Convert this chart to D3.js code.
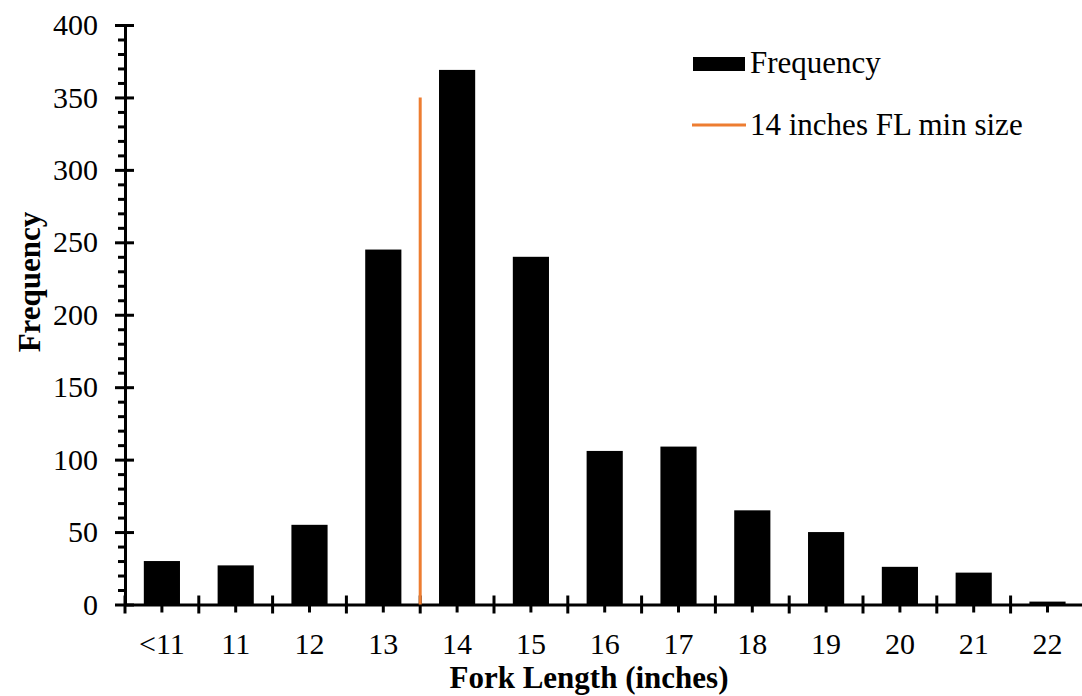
<!DOCTYPE html>
<html>
<head>
<meta charset="utf-8">
<script src="https://cdn.jsdelivr.net/npm/d3@7"></script>
<style>
  body { margin: 0; background: #fff; }
  text { font-family: "Times New Roman", "Liberation Serif", serif; }
</style>
</head>
<body>
<div id="chart"></div>
<script>
// fork length classes and counts
const categories = ["<11", "11", "12", "13", "14", "15", "16", "17", "18", "19", "20", "21", "22"];
const frequency = [30, 27, 55, 245, 369, 240, 106, 109, 65, 50, 26, 22, 2];
const yTicks = [0, 50, 100, 150, 200, 250, 300, 350, 400];
// min size line sits on the 13/14 boundary, up to 350
const minSizeCat = "14";
const minSizeTop = 350;

const width = 1082, height = 696;
const margin = {top: 25, right: -2, bottom: 92, left: 125};

const svg = d3.select("#chart")
    .append("svg")
    .attr("width", width)
    .attr("height", height);

const xScale = d3.scaleBand()
    .domain(categories)
    .range([margin.left, 1084.4])
    .padding(0);

const yScale = d3.scaleLinear()
    .domain([0, 400])
    .range([604.5, margin.top]);

const bw = xScale.bandwidth();
const barFrac = 0.49;

// bars
svg.append("g")
    .selectAll("rect")
    .data(categories)
    .enter()
    .append("rect")
    .attr("x", d => xScale(d) + bw * (1 - barFrac) / 2)
    .attr("y", (d, i) => yScale(frequency[i]))
    .attr("width", bw * barFrac)
    .attr("height", (d, i) => yScale(0) - yScale(frequency[i]))
    .style("fill", "#000");

// y axis, minor ticks every 10
const minorY = d3.range(0, 401, 10).filter(v => v % 50 !== 0);
svg.append("g")
    .attr("transform", `translate(${margin.left},0)`)
    .call(d3.axisLeft(yScale).tickValues(minorY).tickSize(7).tickSizeOuter(0).tickFormat(""))
    .call(g => g.select(".domain").remove())
    .call(g => g.selectAll("line").attr("stroke-width", 3));

const yAxis = svg.append("g")
    .attr("transform", `translate(${margin.left},0)`)
    .call(d3.axisLeft(yScale).tickValues(yTicks).tickSize(10).tickSizeOuter(0).tickPadding(17));
yAxis.select(".domain").attr("stroke-width", 3);
yAxis.selectAll(".tick line").attr("x2", 9).attr("x1", -10).attr("stroke-width", 3);
yAxis.selectAll(".tick text")
    .style("font-size", "30px")
    .style("font-family", "'Times New Roman', 'Liberation Serif', serif")
    .attr("fill", "#000");

// x axis: minor ticks at centres, labels
const xAxis = svg.append("g")
    .attr("transform", `translate(0,${yScale(0)})`)
    .call(d3.axisBottom(xScale).tickSize(8).tickSizeOuter(0).tickPadding(20));
xAxis.select(".domain").attr("stroke-width", 3);
xAxis.selectAll(".tick line").attr("stroke-width", 3);
xAxis.selectAll(".tick text")
    .style("font-size", "30px")
    .style("font-family", "'Times New Roman', 'Liberation Serif', serif")
    .attr("fill", "#000");

// x axis major ticks on category boundaries
const bounds = categories.map(c => xScale(c)).concat([xScale.range()[1]]);
svg.append("g")
    .selectAll("line")
    .data(bounds)
    .enter()
    .append("line")
    .attr("x1", d => d).attr("x2", d => d)
    .attr("y1", yScale(0) - 9).attr("y2", yScale(0) + 9)
    .attr("stroke", "#000")
    .attr("stroke-width", 3);

// min size line
svg.append("line")
    .attr("x1", xScale(minSizeCat)).attr("x2", xScale(minSizeCat))
    .attr("y1", yScale(0)).attr("y2", yScale(minSizeTop))
    .attr("stroke", "#ED7D31")
    .attr("stroke-width", 3);

// axis titles
svg.append("text")
    .attr("x", 589)
    .attr("y", 688)
    .attr("text-anchor", "middle")
    .style("font-size", "31px")
    .style("font-weight", "bold")
    .text("Fork Length (inches)");

svg.append("text")
    .attr("transform", "translate(40,282) rotate(-90)")
    .attr("text-anchor", "middle")
    .style("font-size", "31px")
    .style("font-weight", "bold")
    .text("Frequency");

// legend
const legend = svg.append("g");
legend.append("rect").attr("x", 693).attr("y", 57).attr("width", 52).attr("height", 14).style("fill", "#000");
legend.append("line").attr("x1", 692).attr("x2", 746).attr("y1", 125).attr("y2", 125)
    .attr("stroke", "#ED7D31").attr("stroke-width", 3);
legend.append("text").attr("x", 750).attr("y", 73).style("font-size", "31px").text("Frequency");
legend.append("text").attr("x", 750).attr("y", 135).style("font-size", "31px").text("14 inches FL min size");
</script>
</body>
</html>
